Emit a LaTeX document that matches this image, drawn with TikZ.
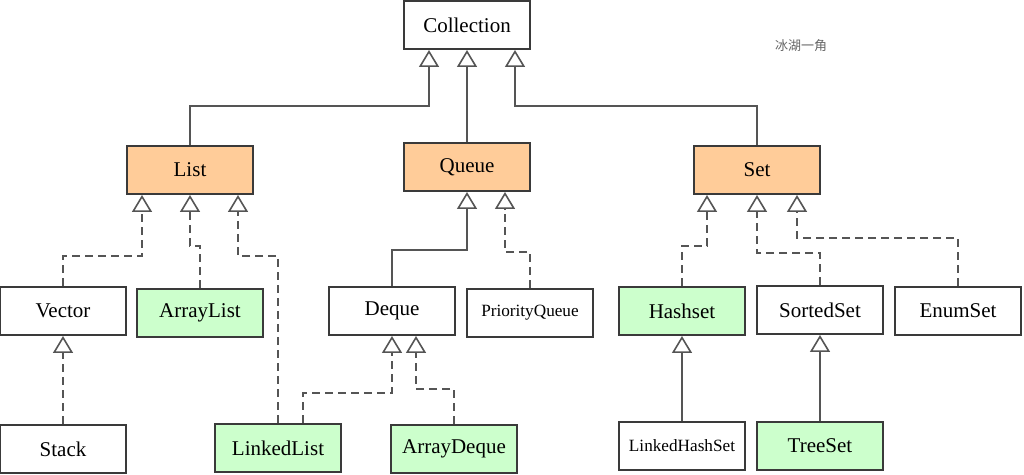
\documentclass[tikz,border=0pt]{standalone}
\usepackage{fontspec}
\setmainfont{Liberation Serif}
\newfontfamily\cjk{Noto Sans CJK SC}
\usepackage{tikz}
\usetikzlibrary{arrows.meta,calc}

\definecolor{ifacefill}{HTML}{FFCC99}
\definecolor{implfill}{HTML}{CCFFCC}
\definecolor{boxline}{HTML}{3A3A3A}
\definecolor{linkline}{HTML}{555555}

\begin{document}
\begin{tikzpicture}[x=0.5pt, y=-0.5pt,
    cls/.style={draw=boxline, line width=1pt, fill=white, minimum width=63pt,
        minimum height=24pt, inner sep=0pt, font=\fontsize{10.5}{12}\selectfont},
    iface/.style={cls, fill=ifacefill},
    impl/.style={cls, fill=implfill},
    small/.style={font=\fontsize{8.6}{10}\selectfont},
    inherit/.style={draw=linkline, line width=0.9pt,
        -{Triangle[width=10pt, length=8.5pt, fill=white, line width=0.8pt]}},
    realize/.style={inherit, dash pattern=on 4pt off 2.5pt}]
    \useasboundingbox (0,0) rectangle (1024,475);

    % Top level
    \node[cls] (coll) at (467,25) {Collection};
    \node[font=\cjk\fontsize{6.5}{8}\selectfont, text=black!60] (mark) at (801,46) {冰湖一角};

    % Interfaces
    \node[iface] (list) at (190,170) {List};
    \node[iface] (queue) at (467,167) {Queue};
    \node[iface] (set) at (757,170) {Set};

    % Second row
    \node[cls] (vector) at (63,311) {Vector};
    \node[impl] (arraylist) at (200,313) {ArrayList};
    \node[cls] (deque) at (392,311) {Deque};
    \node[cls, small] (pqueue) at (530,313) {PriorityQueue};
    \node[impl] (hashset) at (682,311) {Hashset};
    \node[cls] (sortedset) at (820,310) {SortedSet};
    \node[cls] (enumset) at (958,311) {EnumSet};

    % Third row
    \node[cls] (stack) at (63,449) {Stack};
    \node[impl] (linkedlist) at (278,448) {LinkedList};
    \node[impl] (arraydeque) at (454,449) {ArrayDeque};
    \node[cls, small] (lhashset) at (682,446) {LinkedHashSet};
    \node[impl] (treeset) at (820,446) {TreeSet};

    % Collection
    \draw[inherit] (list.north) -- ++(0,-39) -| ($(coll.south)+(-38,0)$);
    \draw[inherit] (queue.north) -- (coll.south);
    \draw[inherit] (set.north) -- ++(0,-39) -| ($(coll.south)+(48,0)$);

    % List
    \draw[realize] (vector.north) -- ++(0,-30) -| ($(list.south)+(-48,0)$);
    \draw[realize] (arraylist.north) -- ++(0,-42) -| (list.south);
    \draw[realize] (linkedlist.north) -- ++(0,-167) -| ($(list.south)+(48,0)$);
    \draw[realize] (stack.north) -- (vector.south);

    % Queue
    \draw[inherit] (deque.north) -- ++(0,-36) -| (queue.south);
    \draw[realize] (pqueue.north) -- ++(0,-36) -| ($(queue.south)+(38,0)$);
    \draw[realize] ($(linkedlist.north)+(25,0)$) -- ++(0,-30) -| (deque.south);
    \draw[realize] (arraydeque.north) -- ++(0,-35) -| ($(deque.south)+(24,0)$);

    % Set
    \draw[realize] (hashset.north) -- ++(0,-40) -| ($(set.south)+(-50,0)$);
    \draw[realize] (sortedset.north) -- ++(0,-32) -| (set.south);
    \draw[realize] (enumset.north) -- ++(0,-48) -| ($(set.south)+(40,0)$);
    \draw[inherit] (lhashset.north) -- (hashset.south);
    \draw[inherit] (treeset.north) -- (sortedset.south);
\end{tikzpicture}
\end{document}
